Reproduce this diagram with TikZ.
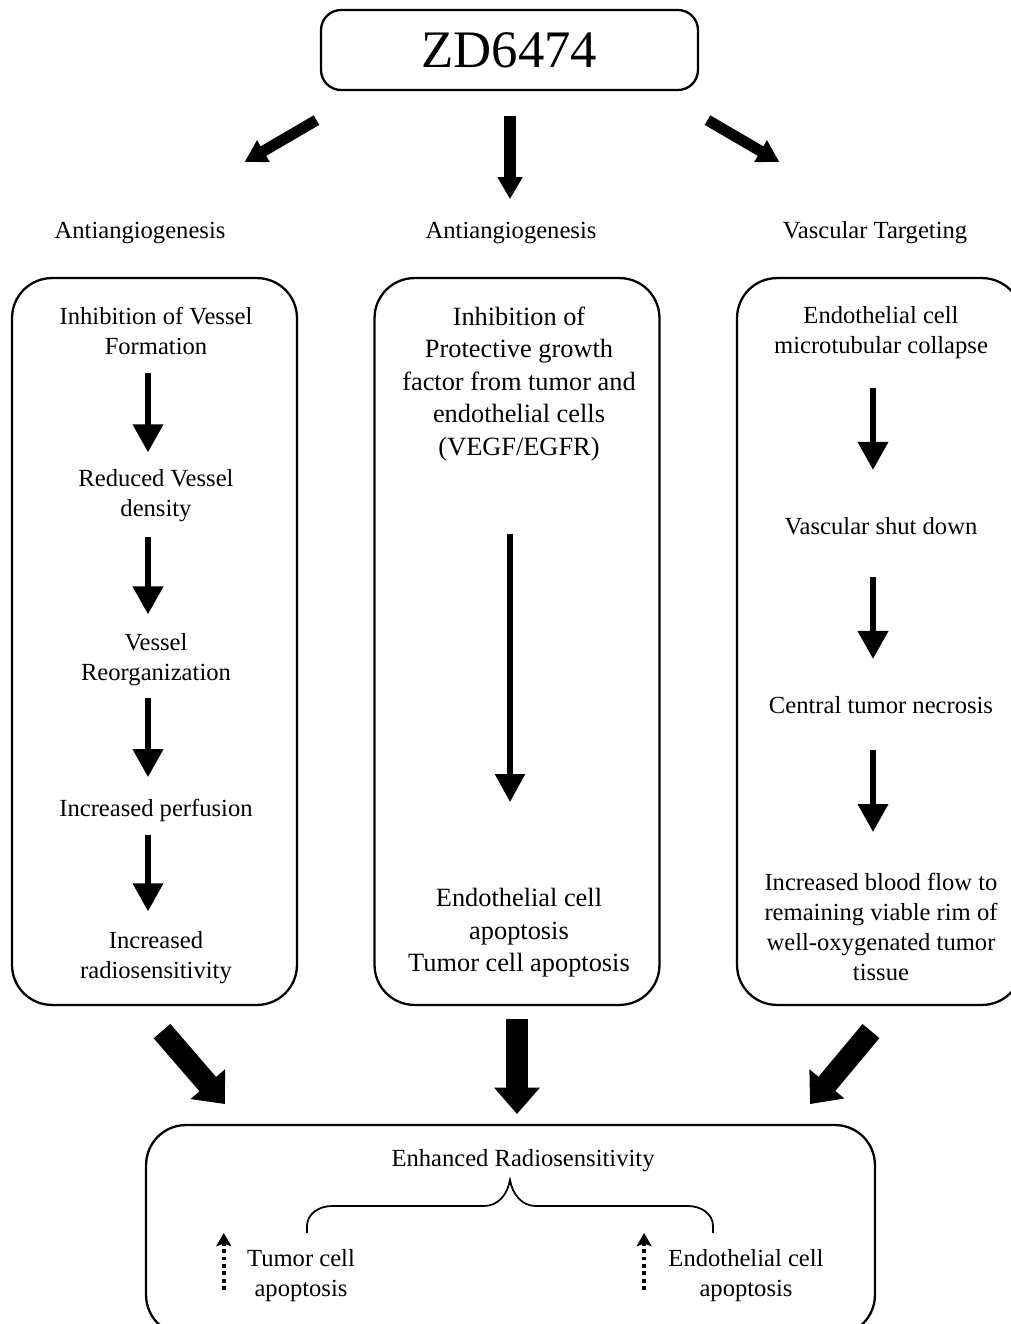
\documentclass[tikz,border=0pt]{standalone}
\usepackage{fontspec}
\setmainfont{Liberation Serif}
\usetikzlibrary{arrows.meta}

\begin{document}
\begin{tikzpicture}[x=0.02cm,y=0.02cm,
  panel/.style={draw,line width=1.3pt,rounded corners=0.8cm,minimum width=5.7cm,minimum height=14.54cm},
  lbl/.style={align=center,inner sep=0pt,font=\fontsize{14}{17}\selectfont},
  midlbl/.style={align=center,inner sep=0pt,font=\fontsize{15}{18.5}\selectfont},
  stp/.style={line width=3.8pt,-{Triangle[length=16pt,width=16.5pt]}},
  topar/.style={line width=6.3pt,-{Triangle[length=12.5pt,width=13.5pt]}},
  fatar/.style={line width=12.5pt,-{Triangle[length=15pt,width=25pt]}},
  upar/.style={line width=2pt,dash pattern=on 2.2pt off 2pt,-{Stealth[length=7.5pt,width=8.5pt,inset=1.5pt]}}]
  \useasboundingbox (0,0) rectangle (1010,-1324);

  \node[draw,line width=1.3pt,rounded corners=0.4cm,minimum width=7.54cm,minimum height=1.6cm,
    font=\fontsize{30}{36}\selectfont] (zd) at (509.5,-50) {ZD6474};

  \node[lbl] (angL) at (140,-233) {Antiangiogenesis};
  \node[lbl] (angM) at (511,-233) {Antiangiogenesis};
  \node[lbl] (vasc) at (875,-233) {Vascular Targeting};

  \draw[topar] (zd.south) ++(-193,-29) -- ++(-72,-42);
  \draw[topar] (zd.south) ++(0.5,-25) -- ++(0,-83);
  \draw[topar] (zd.south) ++(198,-29) -- ++(72,-42);

  % the three panels
  \node[panel] (pL) at (154.5,-641.5) {};
  \node[panel] (pM) at (517,-641.5) {};
  \node[panel] (pR) at (879.5,-641.5) {};

  \node[lbl] (l1) at (156,-331) {Inhibition of Vessel\\Formation};
  \node[lbl] (l2) at (156,-496) {Reduced Vessel\\density};
  \node[lbl] (l3) at (156,-660) {Vessel\\Reorganization};
  \node[lbl] (l4) at (156,-810) {Increased perfusion};
  \node[lbl] (l5) at (156,-958) {Increased\\radiosensitivity};

  \node[midlbl] (m1) at (519,-384) {Inhibition of\\Protective growth\\factor from tumor and\\endothelial cells\\(VEGF/EGFR)};
  \node[midlbl] (m2) at (519,-933) {Endothelial cell\\apoptosis\\Tumor cell apoptosis};

  \node[lbl] (r1) at (881,-333) {Endothelial cell\\microtubular collapse};
  \node[lbl] (r2) at (881,-526) {Vascular shut down};
  \node[lbl] (r3) at (881,-705) {Central tumor necrosis};
  \node[lbl] (r4) at (881,-927) {Increased blood flow to\\remaining viable rim of\\well-oxygenated tumor\\tissue};

  \foreach \a/\b/\s/\e in {l1/l2/10.2pt/9.7pt, l2/l3/8pt/10.8pt, l3/l4/6.8pt/12pt, l4/l5/7.4pt/11.4pt,
      r1/r2/16.5pt/26.7pt, r2/r3/23.9pt/21pt, r3/r4/20.5pt/23.3pt}
    \draw[stp,shorten <=\s,shorten >=\e] ([xshift=-0.16cm]\a.south) -- ([xshift=-0.16cm]\b.north);
  \draw[stp,line width=3.2pt,shorten <=41.5pt,shorten >=49pt] ([xshift=-0.18cm]m1.south) -- ([xshift=-0.18cm]m2.north);

  % result box
  \node[draw,line width=1.3pt,rounded corners=0.8cm,minimum width=14.58cm,minimum height=4.2cm] (res) at (510.5,-1230) {};
  \node[lbl] (enh) at (523,-1161) {Enhanced Radiosensitivity};

  \draw[fatar] (pL.south) ++(7.5,-25) -- ++(63,-73);
  \draw[fatar] (pM.south) ++(0,-13) -- ++(0,-95);
  \draw[fatar] (pR.south) ++(-8.5,-25) -- ++(-61,-73);

  \draw[line width=1pt] (307,-1233) -- (307,-1226) to[out=90,in=180] (332,-1206) -- (484,-1206)
    to[out=0,in=-100] (510,-1180) to[out=-80,in=180] (536,-1206) -- (688,-1206)
    to[out=0,in=90] (713,-1226) -- (713,-1233);

  \node[lbl] (tca) at (301,-1276) {Tumor cell\\apoptosis};
  \node[lbl] (eca) at (746,-1276) {Endothelial cell\\apoptosis};
  \draw[upar] (tca.west) ++(-23,-14) -- ++(0,57);
  \draw[upar] (eca.west) ++(-24,-14) -- ++(0,57);
\end{tikzpicture}
\end{document}
